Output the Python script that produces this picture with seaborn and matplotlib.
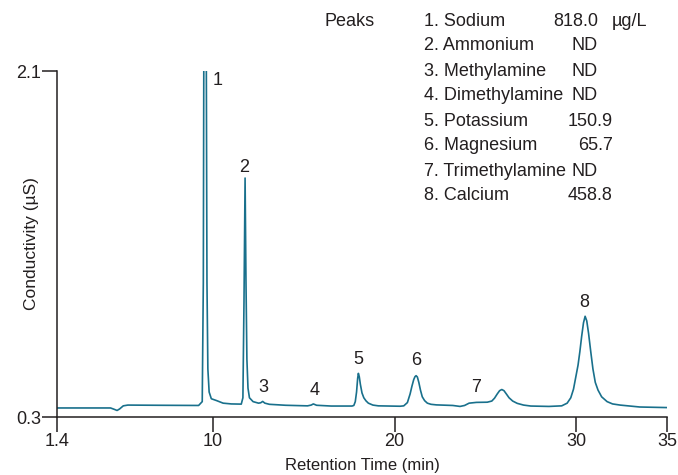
import matplotlib
matplotlib.use("Agg")
import matplotlib.pyplot as plt
import seaborn as sns
import pandas as pd

# ---- data ----
time_min = [1.4, 3.0, 4.35, 4.55, 4.71, 4.85, 5.05, 5.3, 7.0, 9.2,
            9.40, 9.46, 9.49, 9.55, 9.62, 9.66, 9.71, 9.78, 9.9, 10.2,
            10.55, 11.0, 11.55, 11.64, 11.70, 11.76, 11.81, 11.86, 11.92, 12.0,
            12.2, 12.5, 12.62, 12.73, 12.85, 13.1, 14.0, 15.2, 15.4, 15.52,
            15.7, 16.5, 17.65, 17.75, 17.83, 17.9, 17.96, 18.0, 18.05, 18.11,
            18.2, 18.3, 18.42, 18.55, 18.8, 19.1, 20.3, 20.5, 20.7, 20.85,
            20.95, 21.05, 21.12, 21.18, 21.25, 21.33, 21.42, 21.52, 21.65, 21.8,
            22.0, 22.3, 23.2, 23.6, 23.85, 24.1, 24.5, 25.1, 25.35, 25.5,
            25.65, 25.78, 25.9, 26.02, 26.15, 26.3, 26.5, 26.75, 27.1, 27.5,
            28.5, 29.2, 29.5, 29.7, 29.85, 30.0, 30.1, 30.2, 30.3, 30.4,
            30.49, 30.58, 30.68, 30.8, 30.92, 31.05, 31.2, 31.4, 31.7, 32.0,
            32.42, 33.5, 35.0]
conductivity = [0.347, 0.347, 0.347, 0.340, 0.334, 0.342, 0.358, 0.362, 0.361, 0.360,
                0.38, 1.0, 2.3, 3.6, 2.3, 1.0, 0.55, 0.43, 0.395, 0.385,
                0.372, 0.368, 0.367, 0.40, 0.9, 1.543, 1.0, 0.6, 0.45, 0.40,
                0.38, 0.372, 0.374, 0.381, 0.372, 0.366, 0.361, 0.358, 0.362, 0.368,
                0.361, 0.357, 0.357, 0.360, 0.38, 0.43, 0.50, 0.527, 0.51, 0.47,
                0.425, 0.40, 0.384, 0.372, 0.362, 0.358, 0.356, 0.358, 0.375, 0.42,
                0.46, 0.495, 0.51, 0.515, 0.508, 0.48, 0.44, 0.405, 0.385, 0.372,
                0.366, 0.363, 0.360, 0.355, 0.360, 0.372, 0.376, 0.377, 0.383, 0.398,
                0.42, 0.437, 0.443, 0.437, 0.42, 0.40, 0.383, 0.371, 0.362, 0.357,
                0.355, 0.358, 0.372, 0.40, 0.445, 0.52, 0.57, 0.64, 0.72, 0.79,
                0.824, 0.80, 0.735, 0.64, 0.55, 0.48, 0.44, 0.405, 0.38, 0.368,
                0.362, 0.352, 0.349]

peak_labels = ["1", "2", "3", "4", "5", "6", "7", "8"]
peak_label_time = [10.22, 11.72, 12.78, 15.58, 18.0, 21.18, 24.48, 30.45]
peak_label_cond = [2.05, 1.60, 0.456, 0.44, 0.597, 0.592, 0.456, 0.898]

analytes = ["1. Sodium", "2. Ammonium", "3. Methylamine", "4. Dimethylamine",
            "5. Potassium", "6. Magnesium", "7. Trimethylamine", "8. Calcium"]
amounts = ["818.0", "ND", "ND", "ND", "150.9", "65.7", "ND", "458.8"]
unit = "µg/L"

x_ticks = [1.4, 10, 20, 30, 35]
x_tick_labels = ["1.4", "10", "20", "30", "35"]
y_ticks = [0.3, 2.1]
y_tick_labels = ["0.3", "2.1"]

# ---- style ----
sns.set_theme(style="ticks")
plt.rcParams["font.family"] = ["Liberation Sans", "DejaVu Sans"]
TXT = "#231f20"
LINE = "#19708c"

W, H = 678, 475
fig = plt.figure(figsize=(W / 100, H / 100), dpi=100)
ax = fig.add_axes([57 / W, 1 - 417 / H, (667 - 57) / W, (417 - 71) / H])

df = pd.DataFrame({"Retention Time (min)": time_min, "Conductivity (µS)": conductivity})
sns.lineplot(data=df, x="Retention Time (min)", y="Conductivity (µS)", ax=ax,
             color=LINE, linewidth=1.2, estimator=None, sort=False)

ax.set_xlim(1.4, 35)
ax.set_ylim(0.3, 2.1)
ax.set_xticks(x_ticks)
ax.set_xticklabels(x_tick_labels)
ax.set_yticks(y_ticks)
ax.set_yticklabels(y_tick_labels)
ax.tick_params(axis="both", direction="out", length=10.5, width=1.1, colors=TXT,
               labelsize=13, pad=1)
for s in ["top", "right"]:
    ax.spines[s].set_visible(False)
for s in ["left", "bottom"]:
    ax.spines[s].set_color(TXT)
    ax.spines[s].set_linewidth(1.1)
ax.set_xlabel("Retention Time (min)", fontsize=12, color=TXT)
ax.set_ylabel("Conductivity (µS)", fontsize=12.5, color=TXT)
ax.xaxis.set_label_coords(0.5, -0.118)
ax.yaxis.set_label_coords(-0.029, 0.5)

for lab, t, c in zip(peak_labels, peak_label_time, peak_label_cond):
    ax.text(t, c, lab, ha="center", va="center", fontsize=13, color=TXT, clip_on=False)

# peaks table
def ftext(x, y, s, **kw):
    fig.text(x / W, 1 - y / H, s, va="center", fontsize=13, color=TXT, **kw)

ftext(325, 21, "Peaks", ha="left")
row_y0, row_dy = 21, 25
for i, (name, amt) in enumerate(zip(analytes, amounts)):
    y = row_y0 + i * row_dy
    ftext(424, y, name, ha="left")
    if amt == "ND" or i == 0:
        ftext(598, y, amt, ha="right")
    else:
        ftext(613, y, amt, ha="right")
ftext(612, row_y0, unit, ha="left")

fig.savefig("out.png", dpi=100)
